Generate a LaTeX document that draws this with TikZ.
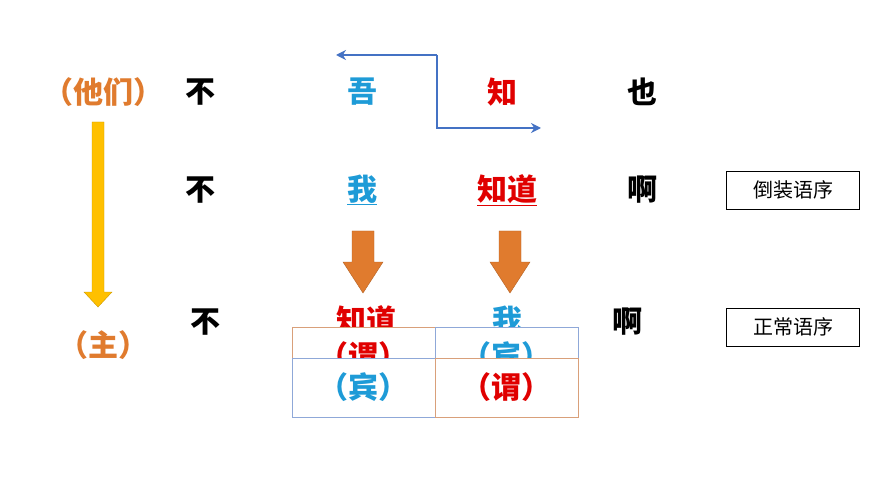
\documentclass[tikz,border=0pt]{standalone}
\usepackage{fontspec}
\newfontfamily\cjk{Noto Sans CJK SC}
\usetikzlibrary{arrows.meta}
\definecolor{myblue}{HTML}{1E9BD7}
\definecolor{myred}{HTML}{E00000}
\definecolor{myorange}{HTML}{E07B2E}
\definecolor{arrblue}{HTML}{4472C4}
\definecolor{myyellow}{HTML}{FFC000}
\definecolor{boxorange}{HTML}{D9A07A}
\definecolor{boxblue}{HTML}{8FA8D8}
\tikzset{
 big/.style={font=\cjk\bfseries\fontsize{30}{32}\selectfont},
 lab/.style={font=\cjk\bfseries\fontsize{30}{32}\selectfont},
 tag/.style={draw=black,font=\cjk\fontsize{20}{22}\selectfont,minimum width=133pt,minimum height=38pt,inner sep=0pt},
 cell/.style={fill=white,minimum width=143pt,minimum height=59pt,inner sep=0pt,line width=0.8pt},
 blockarr/.style={fill=myorange,draw=myorange!80!black}
}
\begin{document}
\begin{tikzpicture}[x=1pt,y=-1pt]
\useasboundingbox (0,0) rectangle (870,489);
\fill[white] (0,0) rectangle (870,489);
% row 1
\node[lab,text=myorange] (tm) at (103,92) {（他们）};
\node[big] (b1) at (200,92) {不};
\node[big,text=myblue] (wu) at (362,92) {吾};
\node[big,text=myred] (zhi) at (502,92) {知};
\node[big] (ye) at (642,92) {也};
% blue arrows
\coordinate (c1) at (437,55);
\coordinate (c2) at (437,128);
\coordinate (e1) at (336,55);
\coordinate (e2) at (541,128);
\draw[arrblue,line width=2.8pt,-{Stealth[length=10pt,width=10pt]}] (c1) -- (e1);
\draw[arrblue,line width=2.8pt,-{Stealth[length=10pt,width=10pt]}] (c1) -- (c2) -- (e2);
% row 2
\node[big] (b2) at (200,190) {不};
\node[big,text=myblue] (wo2) at (362,190) {\underline{我}};
\node[big,text=myred] (zd2) at (507,190) {\underline{知道}};
\node[big] (a2) at (642,190) {啊};
\node[tag] (dz) at (793,190) {倒装语序};
% yellow arrow
\fill[myyellow,draw=myyellow!80!black] (92,122) -- (104,122) -- (104,292) -- (112,292) -- (98,307) -- (84,292) -- (92,292) -- cycle;
% orange block arrows
\foreach \cx in {363,510}{
 \fill[blockarr] (\cx-11,231) -- (\cx+11,231) -- (\cx+11,262) -- (\cx+20,262) -- (\cx,293) -- (\cx-20,262) -- (\cx-11,262) -- cycle;
}
% row 3
\node[lab,text=myorange] (zhu) at (103,345) {（主）};
\node[big] (b3) at (205,322) {不};
\node[big,text=myred] (zd3) at (366,320) {知道};
\node[big,text=myblue] (wo3) at (507,320) {我};
\node[big] (a3) at (627,322) {啊};
\node[tag] (zc) at (793,327) {正常语序};
% overlapping cells
\node[cell,draw=boxorange,lab,text=myred] (ca) at (363.5,356.5) {（谓）};
\node[cell,draw=boxblue,lab,text=myblue] (cb) at (506.5,356.5) {（宾）};
\node[cell,draw=boxblue,lab,text=myblue] (cc) at (363.5,387.5) {（宾）};
\node[cell,draw=boxorange,lab,text=myred] (cd) at (506.5,387.5) {（谓）};
\end{tikzpicture}
\end{document}
